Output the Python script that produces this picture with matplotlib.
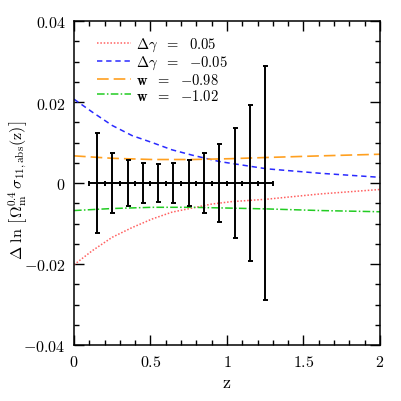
import numpy as np
import matplotlib
matplotlib.use("Agg")
import matplotlib.pyplot as plt
from matplotlib.ticker import MultipleLocator

plt.rcParams['mathtext.fontset'] = 'cm'
plt.rcParams['font.family'] = ['DejaVu Serif']

# Model curves
z_blue = [0.0, 0.12, 0.25, 0.38, 0.51, 0.64, 0.77, 0.95, 1.26, 1.61, 2.0]
dgam_m005 = [0.0207, 0.0175, 0.0142, 0.0117, 0.0100, 0.0082, 0.0069, 0.0053, 0.0035, 0.0024, 0.0014]

z_red = [0.0, 0.12, 0.25, 0.38, 0.51, 0.64, 0.77, 0.90, 1.03, 1.26, 1.61, 2.0]
dgam_p005 = [-0.0202, -0.0167, -0.0134, -0.0110, -0.0089, -0.0072, -0.0062, -0.0052, -0.0046, -0.0040, -0.0027, -0.0016]

z_or = [0.0, 0.25, 0.51, 0.77, 1.02, 1.26, 1.61, 2.0]
w_m098 = [0.0067, 0.0061, 0.0058, 0.0058, 0.0060, 0.0063, 0.0067, 0.0071]

z_gr = [0.0, 0.25, 0.51, 0.77, 1.02, 1.26, 1.61, 2.0]
w_m102 = [-0.0068, -0.0063, -0.0060, -0.0060, -0.0062, -0.0064, -0.0068, -0.0071]

# Error bars
z_bins = [0.15, 0.25, 0.35, 0.45, 0.55, 0.65, 0.75, 0.85, 0.95, 1.05, 1.15, 1.25]
z_halfwidth = 0.05
sig_err = [0.0123, 0.0074, 0.0057, 0.0049, 0.0047, 0.0049, 0.0058, 0.0073, 0.0096, 0.0135, 0.0193, 0.0289]

legend_labels = [r'$\Delta\gamma\ \ =\ \ 0.05$', r'$\Delta\gamma\ \ =\ \ {-}0.05$',
                 r'$\mathbf{w}\ \ =\ \ {-}0.98$', r'$\mathbf{w}\ \ =\ \ {-}1.02$']

fig = plt.figure(figsize=(4.02, 4.02), dpi=100)
ax = fig.add_axes([74/402, 56/402, 306/402, 324/402])

ax.plot(z_red, dgam_p005, color='#ff6060', ls=(0, (1, 1.2)), lw=1.1, label=legend_labels[0])
ax.plot(z_blue, dgam_m005, color='#2a2aff', ls=(0, (3.5, 2.5)), lw=1.1, label=legend_labels[1])
ax.plot(z_or, w_m098, color='#ffa020', ls=(0, (7, 3)), lw=1.2, label=legend_labels[2])
ax.plot(z_gr, w_m102, color='#22cc22', ls=(0, (5, 1.5, 1, 1.5)), lw=1.1, label=legend_labels[3])

ax.errorbar(z_bins, np.zeros(len(z_bins)), yerr=sig_err, xerr=z_halfwidth, fmt='none',
            ecolor='black', elinewidth=1.4, capsize=1.8, capthick=1.4)

ax.set_xlim(0, 2)
ax.set_ylim(-0.04, 0.04)
ax.xaxis.set_minor_locator(MultipleLocator(0.1))
ax.yaxis.set_minor_locator(MultipleLocator(0.005))
ax.set_xticks([0, 0.5, 1, 1.5, 2])
ax.set_xticklabels([r'$0$', r'$0.5$', r'$1$', r'$1.5$', r'$2$'])
ax.set_yticks([-0.04, -0.02, 0, 0.02, 0.04])
ax.set_yticklabels([r'$-0.04$', r'$-0.02$', r'$0$', r'$0.02$', r'$0.04$'])
ax.tick_params(which='both', direction='in', top=True, right=True, labelsize=11.5, width=1.0)
ax.tick_params(which='major', length=7, pad=6)
ax.tick_params(which='minor', length=3.5)
for s in ax.spines.values():
    s.set_linewidth(1.1)

ax.set_xlabel(r'$\mathrm{z}$', fontsize=13, labelpad=2)
ax.set_ylabel(r'$\Delta\ \mathrm{ln}\ \left[\Omega_{\rm m}^{0.4}\,\sigma_{11,{\rm abs}}(\mathrm{z})\right]$',
              fontsize=11.5, va='center')
ax.yaxis.set_label_coords(-0.183, 0.48)

ax.legend(loc='upper left', bbox_to_anchor=(0.075, 0.955), frameon=False, fontsize=10.5,
          handlelength=2.35, handletextpad=0.3, labelspacing=0.05, borderpad=0, borderaxespad=0)

fig.savefig('out.png', dpi=100)
